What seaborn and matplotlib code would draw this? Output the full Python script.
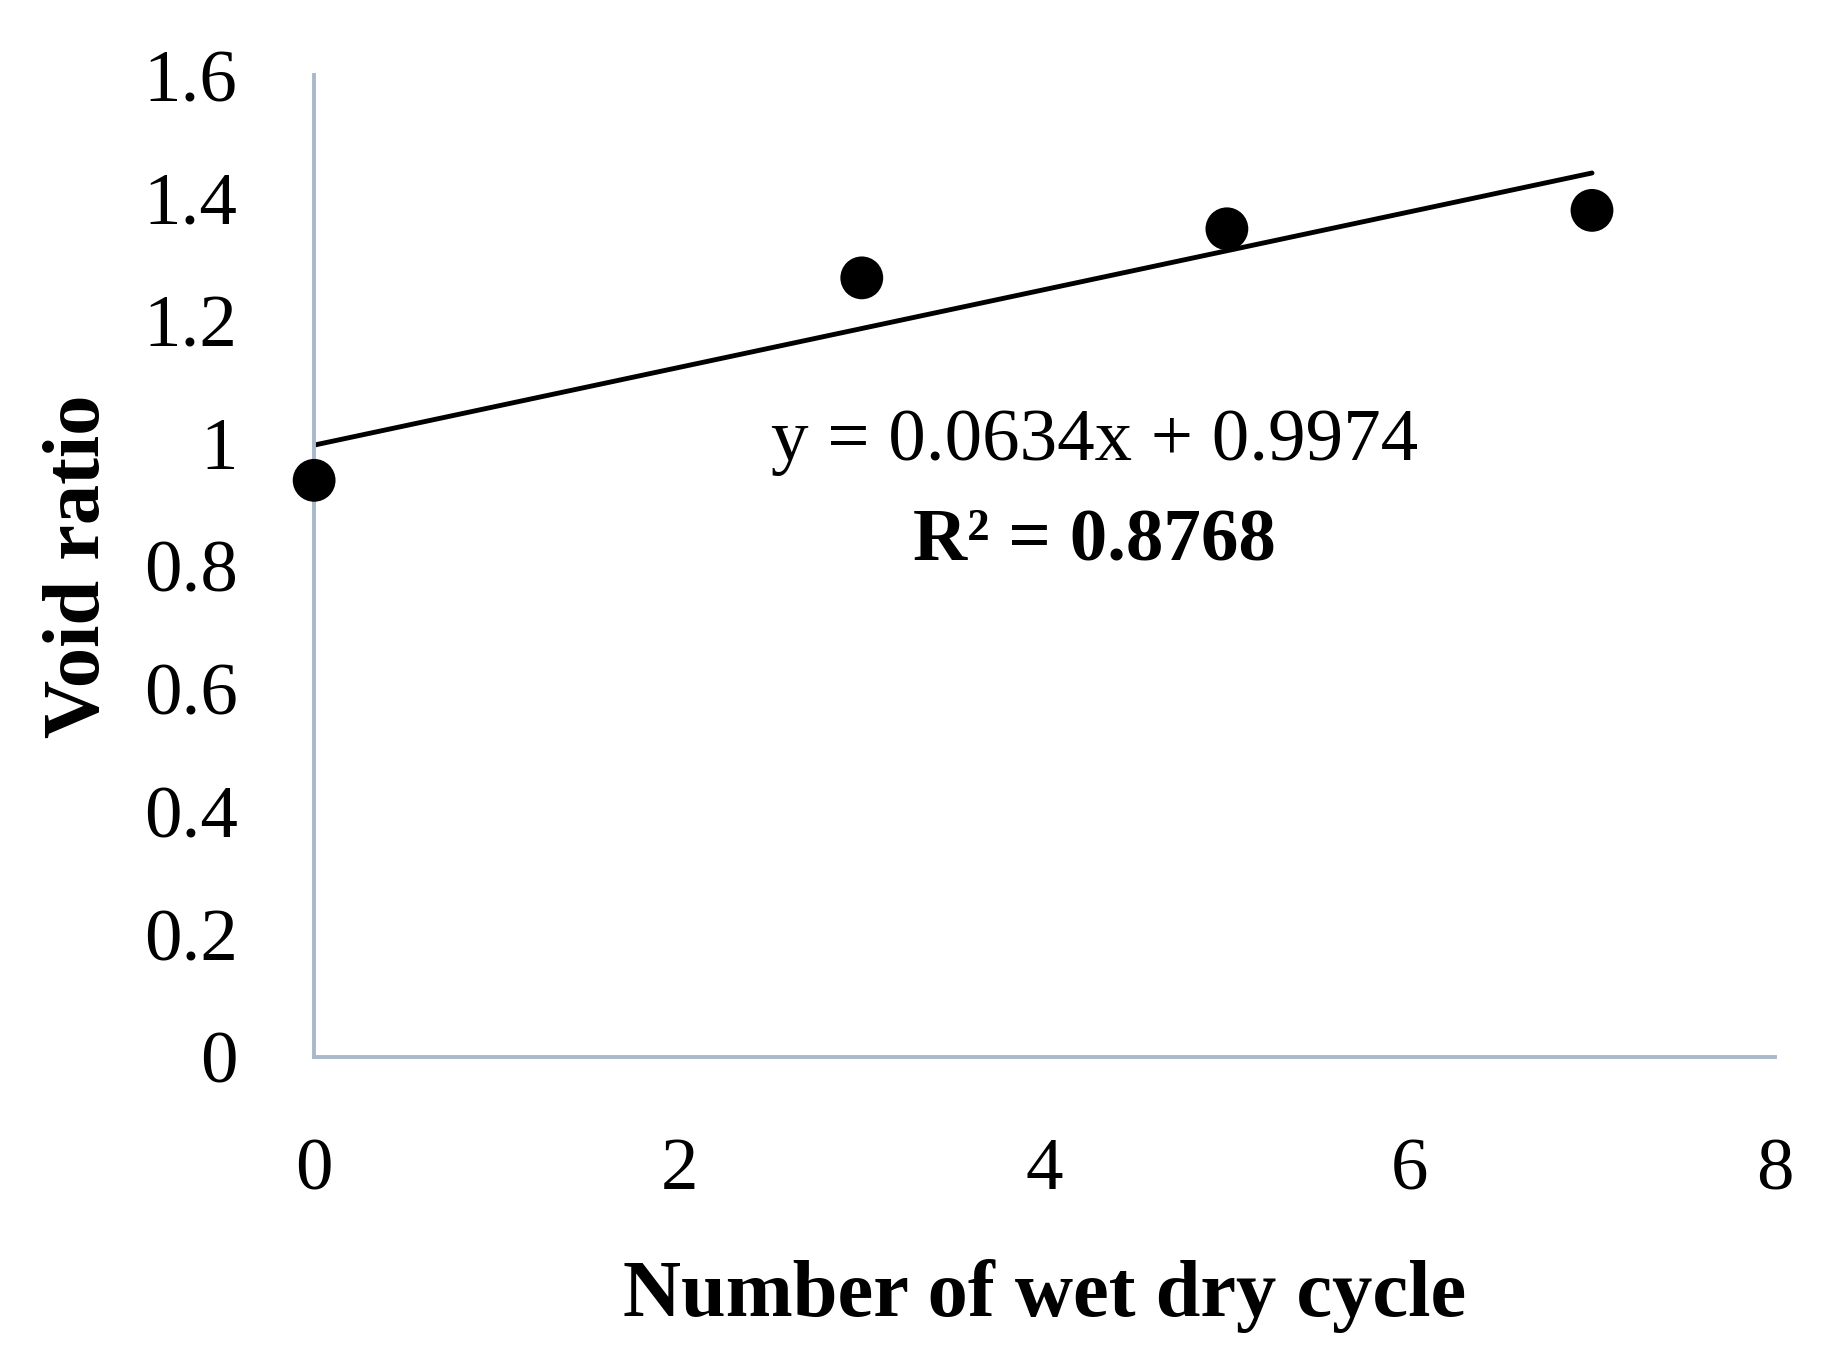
import matplotlib
matplotlib.use("Agg")
import matplotlib.pyplot as plt
import seaborn as sns
import numpy as np
import pandas as pd

# Data
cycles = [0, 3, 5, 7]
void_ratio = [0.94, 1.27, 1.35, 1.38]
x_ticks = [0, 2, 4, 6, 8]
y_ticks = [0, 0.2, 0.4, 0.6, 0.8, 1.0, 1.2, 1.4, 1.6]
y_tick_labels = ["0", "0.2", "0.4", "0.6", "0.8", "1", "1.2", "1.4", "1.6"]
equation_text = "y = 0.0634x + 0.9974"
r2_text = "R² = 0.8768"

sns.set_theme(style="white")
plt.rcParams['font.family'] = ['Liberation Serif', 'DejaVu Serif']
plt.rcParams['text.color'] = 'black'
plt.rcParams['axes.labelcolor'] = 'black'

df = pd.DataFrame({"cycle": cycles, "void": void_ratio})

fig = plt.figure(figsize=(18.37, 13.71), dpi=100)
ax = fig.add_axes([0.171, 0.229, 0.795, 0.716])

sns.regplot(data=df, x="cycle", y="void", ax=ax, ci=None, truncate=True,
            color="black",
            scatter_kws=dict(s=950, color="black", edgecolor="none", alpha=1,
                             zorder=3, clip_on=False),
            line_kws=dict(color="black", lw=3.5, zorder=2))

ax.set_xlim(0, 8)
ax.set_ylim(0, 1.6)
ax.set_xticks(x_ticks)
ax.set_xticklabels([str(t) for t in x_ticks])
ax.set_yticks(y_ticks)
ax.set_yticklabels(y_tick_labels)
ax.tick_params(axis="both", length=0, labelsize=54, colors="black")
ax.tick_params(axis="x", pad=58)
ax.tick_params(axis="y", pad=55)

for side in ["top", "right"]:
    ax.spines[side].set_visible(False)
for side in ["left", "bottom"]:
    ax.spines[side].set_color("#A9B9CB")
    ax.spines[side].set_linewidth(2.8)

ax.set_xlabel("Number of wet dry cycle", fontsize=58, fontweight="bold",
              labelpad=39, color="black")
ax.set_ylabel("Void ratio", fontsize=58, fontweight="bold", labelpad=20,
              color="black")

ax.text(0.5341, 1.0 - (443 - 76) / (1057 - 76), equation_text, transform=ax.transAxes,
        ha="center", va="center", fontsize=54, color="black")
ax.text(0.5341, 1.0 - (542 - 76) / (1057 - 76), r2_text, transform=ax.transAxes,
        ha="center", va="center", fontsize=54, fontweight="bold", color="black")

fig.savefig("out.png", dpi=100)
